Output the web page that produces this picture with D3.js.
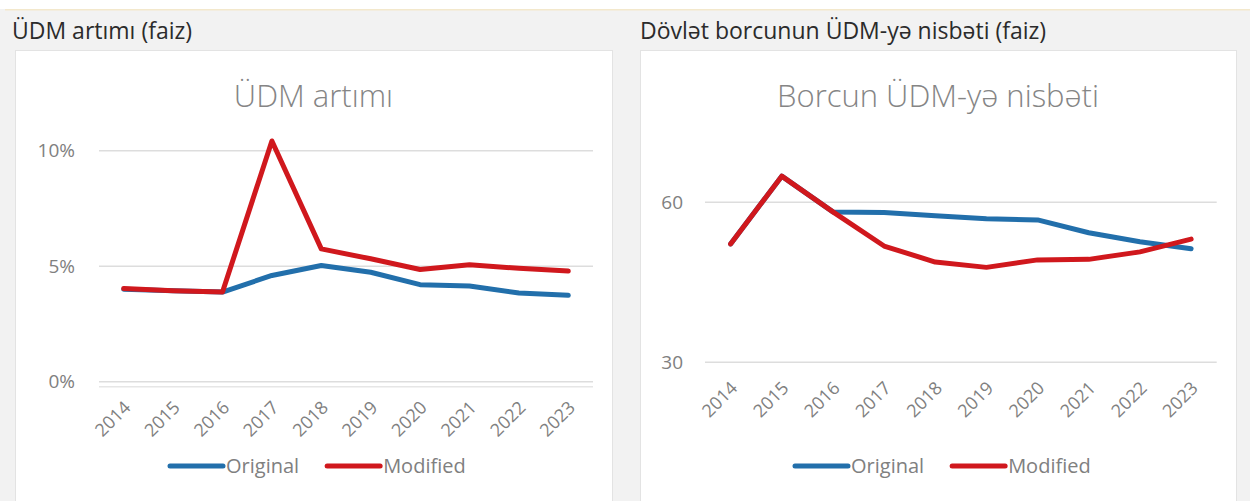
<!DOCTYPE html>
<html>
<head>
<meta charset="utf-8">
<script src="https://cdn.jsdelivr.net/npm/d3@7/dist/d3.min.js"></script>
<style>
  html, body { margin: 0; padding: 0; background: #ffffff; }
  svg { display: block; font-family: "Open Sans", "Noto Sans", sans-serif; }
</style>
</head>
<body>
<svg id="chart" width="1250" height="501"></svg>
<script>
// Years on the category axis
const years = ["2014", "2015", "2016", "2017", "2018", "2019", "2020", "2021", "2022", "2023"];

// GDP growth, percent
const gdpOriginal = [4.0, 3.94, 3.88, 4.6, 5.03, 4.74, 4.2, 4.14, 3.84, 3.74];
const gdpModified = [4.03, 3.94, 3.88, 10.42, 5.75, 5.32, 4.86, 5.06, 4.91, 4.79];
const gdpTicks = [0, 5, 10];

// Public debt to GDP ratio, percent
const debtOriginal = [52.2, 64.9, 58.2, 58.1, 57.5, 56.9, 56.7, 54.3, 52.6, 51.3];
const debtModified = [52.2, 64.9, 58.2, 51.8, 48.8, 47.8, 49.2, 49.3, 50.7, 53.1];
const debtTicks = [30, 60];

const seriesNames = ["Original", "Modified"];
const seriesColors = ["#226fab", "#d0181d"];

const svg = d3.select("#chart");

// page background and the thin rule along the top
svg.append("rect").attr("x", 0).attr("y", 0).attr("width", 1250).attr("height", 501).attr("fill", "#f2f2f2");
svg.append("rect").attr("x", 0).attr("y", 0).attr("width", 1250).attr("height", 9).attr("fill", "#ffffff");
svg.append("rect").attr("x", 5).attr("y", 9).attr("width", 1245).attr("height", 1.5).attr("fill", "#f3e8cc");

function panel(cfg) {
  const g = svg.append("g");

  // section heading above the card
  g.append("text")
    .attr("x", cfg.headX).attr("y", 39)
    .attr("font-size", 23).attr("fill", "#2b2b2b")
    .text(cfg.heading);

  // white card
  g.append("rect")
    .attr("x", cfg.cardX + 0.5).attr("y", 50.5)
    .attr("width", cfg.cardW).attr("height", 470)
    .attr("fill", "#ffffff").attr("stroke", "#e3e3e3").attr("stroke-width", 1);

  // chart title
  g.append("text")
    .attr("x", cfg.cardX + cfg.cardW / 2).attr("y", 107)
    .attr("text-anchor", "middle")
    .attr("font-size", 31).attr("font-weight", 300).attr("fill", "#858585")
    .text(cfg.title);

  const x = d3.scaleBand().domain(years).range(cfg.xRange);
  const cx = d => x(d) + x.bandwidth() / 2;
  const y = d3.scaleLinear().domain(cfg.yDomain).range(cfg.yRange);

  // gridlines
  g.append("g").selectAll("line").data(cfg.ticks).join("line")
    .attr("x1", cfg.xRange[0]).attr("x2", cfg.xRange[1])
    .attr("y1", d => y(d)).attr("y2", d => y(d))
    .attr("stroke", "#dddddd").attr("stroke-width", 1.5);

  if (cfg.doubleAxis) {
    g.append("line")
      .attr("x1", cfg.xRange[0]).attr("x2", cfg.xRange[1])
      .attr("y1", y(cfg.yDomain[0]) + 5).attr("y2", y(cfg.yDomain[0]) + 5)
      .attr("stroke", "#e6e6e6").attr("stroke-width", 1.5);
  }

  // value axis labels
  const yAxis = d3.axisLeft(y).tickValues(cfg.ticks).tickFormat(cfg.fmt).tickSize(0).tickPadding(0);
  const ya = g.append("g").attr("transform", `translate(${cfg.yLabelX},0)`).call(yAxis);
  ya.select(".domain").remove();
  ya.selectAll("text").attr("font-size", 19).attr("fill", "#808080")
    .attr("font-family", "Open Sans, sans-serif");

  // category axis labels, rotated
  const base = y(cfg.yDomain[0]);
  g.append("g").selectAll("text").data(years).join("text")
    .attr("transform", d => `translate(${cx(d) + 8},${base + 27}) rotate(-45)`)
    .attr("text-anchor", "end")
    .attr("font-size", 18).attr("fill", "#808080")
    .text(d => d);

  // series lines
  const line = d3.line().x((d, i) => cx(years[i])).y(d => y(d));
  cfg.series.forEach((vals, k) => {
    g.append("path")
      .datum(vals)
      .attr("d", line)
      .attr("fill", "none")
      .attr("stroke", seriesColors[k])
      .attr("stroke-width", 5)
      .attr("stroke-linejoin", "round")
      .attr("stroke-linecap", "round");
  });

  // legend
  const lg = g.append("g").attr("transform", `translate(${cfg.legendX},466)`);
  let off = 0;
  seriesNames.forEach((name, k) => {
    lg.append("line")
      .attr("x1", off + 2).attr("x2", off + 55)
      .attr("y1", 0).attr("y2", 0)
      .attr("stroke", seriesColors[k]).attr("stroke-width", 5)
      .attr("stroke-linecap", "round");
    const t = lg.append("text")
      .attr("x", off + 58).attr("y", 7)
      .attr("font-size", 20).attr("fill", "#808080")
      .text(name);
    off += 58 + t.node().getComputedTextLength() + 26;
  });
}

panel({
  heading: "ÜDM artımı (faiz)",
  headX: 12,
  cardX: 15, cardW: 597,
  title: "ÜDM artımı",
  xRange: [99, 593],
  yDomain: [0, 10], yRange: [381.7, 150.7],
  ticks: gdpTicks,
  fmt: d => d + "%",
  yLabelX: 75,
  doubleAxis: true,
  series: [gdpOriginal, gdpModified],
  legendX: 168
});

panel({
  heading: "Dövlət borcunun ÜDM-yə nisbəti (faiz)",
  headX: 640,
  cardX: 640, cardW: 596,
  title: "Borcun ÜDM-yə nisbəti",
  xRange: [705, 1216.7],
  yDomain: [30, 60], yRange: [362.3, 202.3],
  ticks: debtTicks,
  fmt: d => String(d),
  yLabelX: 683,
  doubleAxis: false,
  series: [debtOriginal, debtModified],
  legendX: 793
});
</script>
</body>
</html>
